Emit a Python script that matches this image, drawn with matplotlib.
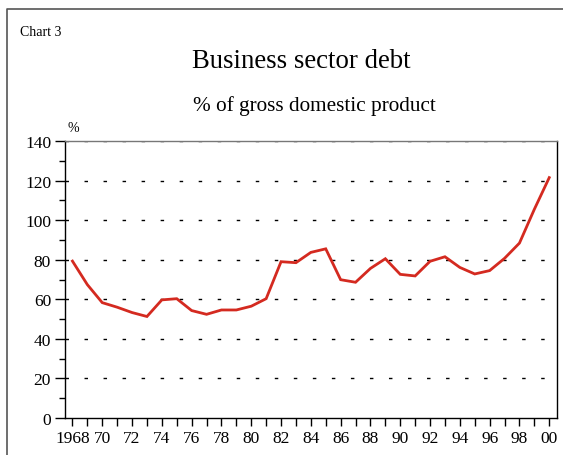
import matplotlib
matplotlib.use("Agg")
import matplotlib.pyplot as plt
from matplotlib.lines import Line2D
from matplotlib.ticker import MultipleLocator

years = list(range(1968, 2001))
debt = [79.3, 67.4, 58.3, 56.0, 53.3, 51.3, 59.7, 60.3, 54.3, 52.4, 54.6,
        54.6, 56.5, 60.3, 79.0, 78.5, 83.7, 85.5, 69.9, 68.6, 75.6, 80.5,
        72.6, 71.8, 79.2, 81.5, 76.1, 72.8, 74.5, 80.7, 88.4, 105.5, 121.5]
tick_years = list(range(1968, 2001, 2))
tick_labels = ["1968"] + [f"{y % 100:02d}" for y in tick_years[1:]]

plt.rcParams["font.family"] = ["Liberation Serif", "DejaVu Serif"]

W, H = 563, 456
fig = plt.figure(figsize=(W / 100, H / 100), dpi=100)
ax = fig.add_axes([65 / W, 1 - 419 / H, (556.7 - 65) / W, (419 - 142) / H])

for v in range(20, 141, 20):
    ax.axhline(v, color="black", linewidth=1.0, dashes=(2.5, 11.2), zorder=1)

ax.plot(years, debt, color="#d42a20", linewidth=2.0, zorder=3,
        solid_joinstyle="miter")

ax.set_xlim(1967.5, 2000.5)
ax.set_ylim(0, 140)
ax.yaxis.set_major_locator(MultipleLocator(20))
ax.yaxis.set_minor_locator(MultipleLocator(10))
ax.set_xticks(years, minor=True)
ax.set_xticks(tick_years, tick_labels)
ax.tick_params(axis="y", which="major", direction="out", length=7, width=1,
               labelsize=12.5, pad=3)
ax.tick_params(axis="y", which="minor", direction="out", length=4, width=1)
ax.tick_params(axis="x", which="both", direction="out", length=6, width=1,
               labelsize=12.5, pad=3)
for side in ["left", "bottom", "right"]:
    ax.spines[side].set_color("black")
    ax.spines[side].set_linewidth(1.0)
ax.spines["top"].set_color("#777777")
ax.spines["top"].set_linewidth(1.0)

ax.text(0.005, 1.025, "%", transform=ax.transAxes, fontsize=10, ha="left",
        va="bottom")

fig.text(20 / W, 1 - 32 / H, "Chart 3", fontsize=10, ha="left", va="center")
fig.text(301 / W, 1 - 62 / H, "Business sector debt", fontsize=19.3,
         ha="center", va="center")
fig.text(314 / W, 1 - 106 / H, "% of gross domestic product", fontsize=15.3,
         ha="center", va="center")

fig.add_artist(Line2D([7.5 / W, 7.5 / W, 1.0], [0.0, 1 - 10 / H, 1 - 10 / H],
                      transform=fig.transFigure, color="#555555",
                      linewidth=1.2))

fig.savefig("out.png", dpi=100)
